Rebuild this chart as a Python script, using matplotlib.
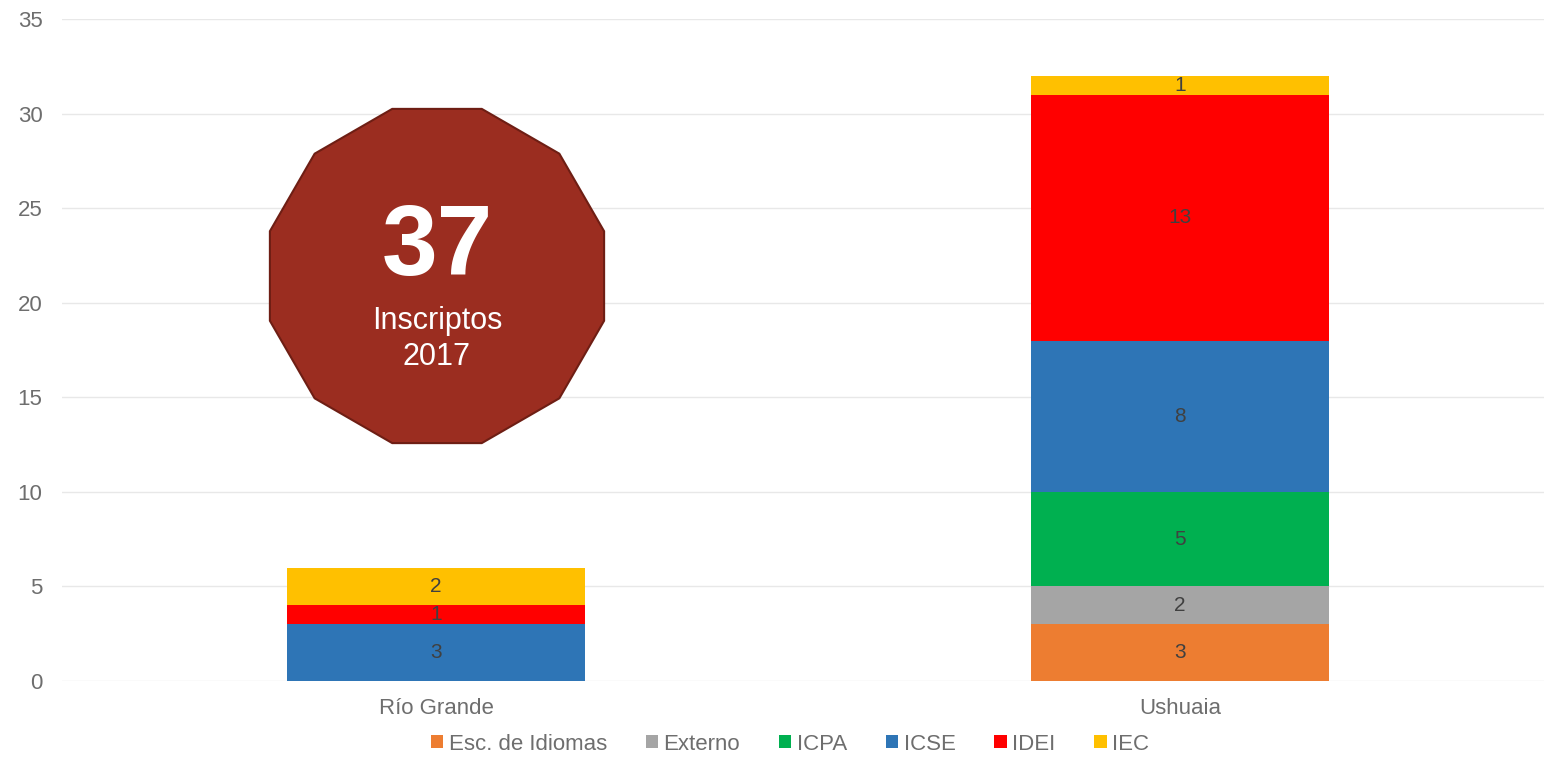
import matplotlib
matplotlib.use("Agg")
import matplotlib.pyplot as plt
from matplotlib.patches import RegularPolygon
import numpy as np

plt.rcParams['font.family'] = ['Liberation Sans', 'DejaVu Sans']

categories = ["Río Grande", "Ushuaia"]
series_names = ["Esc. de Idiomas", "Externo", "ICPA", "ICSE", "IDEI", "IEC"]
esc_idiomas = [0, 3]
externo = [0, 2]
icpa = [0, 5]
icse = [3, 8]
idei = [1, 13]
iec = [2, 1]
series_values = [esc_idiomas, externo, icpa, icse, idei, iec]
colors = ["#ED7D31", "#A5A5A5", "#00B050", "#2E75B6", "#FF0000", "#FFC000"]
y_ticks = [0, 5, 10, 15, 20, 25, 30, 35]
total_label = "37"
badge_text = "Inscriptos\n2017"

fig = plt.figure(figsize=(15.44, 7.66), dpi=100)
ax = fig.add_axes([62 / 1544, 1 - 681 / 766, 1 - 62 / 1544, (681 - 19) / 766])

x = np.arange(len(categories))
bottom = np.zeros(len(categories))
for name, vals, col in zip(series_names, series_values, colors):
    vals = np.array(vals, dtype=float)
    bars = ax.bar(x, vals, width=0.4, bottom=bottom, color=col, label=name, zorder=3)
    labels = [str(int(v)) if v > 0 else "" for v in vals]
    ax.bar_label(bars, labels=labels, label_type='center', color="#404040", fontsize=15)
    bottom += vals

ax.set_xlim(-(436 - 62) / 744, (1544 - 436) / 744)
ax.set_ylim(0, 35)
ax.set_yticks(y_ticks)
ax.set_xticks(x)
ax.set_xticklabels(categories)
ax.tick_params(axis='both', length=0, labelsize=16, colors="#6E6E6E")
ax.tick_params(axis='x', pad=12)
ax.tick_params(axis='y', pad=14)
ax.grid(axis='y', color="#E8E8E8", linewidth=1, zorder=0)
for s in ax.spines.values():
    s.set_visible(False)

# badge (dodecagon)
cx_in, cy_in = 4.37, 7.66 - 2.76
poly = RegularPolygon((cx_in, cy_in), 12, radius=1.73, orientation=np.pi / 12,
                      transform=fig.dpi_scale_trans, facecolor="#9B2D20",
                      edgecolor="#6E1E14", linewidth=1.5, zorder=10)
fig.patches.append(poly)
fig.text(cx_in / 15.44, 1 - 249 / 766, total_label, ha='center', va='center',
         fontsize=72, fontweight='bold', color='white', zorder=11)
fig.text(cx_in / 15.44, 1 - 339 / 766, badge_text, ha='center', va='center',
         fontsize=22, color='white', linespacing=1.22, zorder=11)

leg = fig.legend(loc='center', bbox_to_anchor=(790 / 1544, 1 - 744 / 766), ncol=6, frameon=False,
                 fontsize=16, handlelength=0.55, handleheight=0.55, handletextpad=0.25,
                 columnspacing=1.75)
for t in leg.get_texts():
    t.set_color("#6E6E6E")

fig.savefig("out.png", dpi=100)
